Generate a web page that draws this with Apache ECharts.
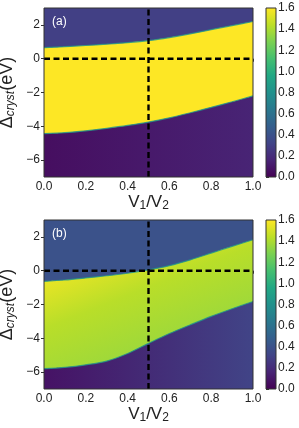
<!DOCTYPE html>
<html>
<head>
<meta charset="utf-8">
<script src="https://cdn.jsdelivr.net/npm/echarts@6/dist/echarts.min.js"></script>
<style>
html,body{margin:0;padding:0;background:#fff;}
#chart{width:299px;height:428px;}
</style>
</head>
<body>
<div id="chart"></div>
<script>
// ---- data ----
const V_RATIO = [0.0, 0.1, 0.2, 0.3, 0.4, 0.5, 0.6, 0.7, 0.8, 0.9, 1.0];
// panel (a): band of high value (upper / lower edge, eV)
const A_UPPER = [0.65, 0.71, 0.78, 0.86, 0.95, 1.07, 1.25, 1.47, 1.72, 1.96, 2.20];
const A_LOWER = [-4.43, -4.38, -4.27, -4.12, -3.95, -3.75, -3.50, -3.20, -2.88, -2.55, -2.20];
// panel (b)
const B_UPPER = [-0.63, -0.55, -0.43, -0.30, -0.15, 0.05, 0.30, 0.64, 1.04, 1.44, 1.83];
const B_LOWER = [-5.80, -5.72, -5.57, -5.35, -4.90, -4.30, -3.72, -3.20, -2.70, -2.25, -1.82];
// region levels (colour scale 0..1.6)
const A_TOP_LEVEL = [0.30, 0.30];            // left, right
const A_BOTTOM_LEVEL = [0.06, 0.16];         // left, right
const A_BAND_LEVEL = [1.6, 1.6, 1.6, 1.6, 1.6, 1.6];
const B_TOP_LEVEL = [0.40, 0.40];
const B_BOTTOM_LEVEL = [0.08, 0.32];
const B_BAND_LEVEL = [1.60, 1.55, 1.43, 1.37, 1.34, 1.32]; // from upper-left toward lower-right
const GUIDE_X = 0.5;
const GUIDE_Y = 0;
const X_TICKS = [0.0, 0.2, 0.4, 0.6, 0.8, 1.0];
const Y_TICKS = [-6, -4, -2, 0, 2];
const CBAR_TICKS = [0.0, 0.2, 0.4, 0.6, 0.8, 1.0, 1.2, 1.4, 1.6];
const PANEL_LABELS = ['(a)', '(b)'];

// ---- scale ----
const XMIN = 0, XMAX = 1, YMIN = -7, YMAX = 3, CMIN = 0, CMAX = 1.6;
const FONT = '"Liberation Sans", Arial, sans-serif';
const VIRIDIS = ['#440154','#482475','#414487','#355f8d','#2a788e','#21918c','#22a884','#44bf70','#7ad151','#bddf26','#fde725'];
const BAND_STOPS = [0, 0.16, 0.35, 0.57, 0.67, 1];

function hexToRgb(h){return [parseInt(h.slice(1,3),16),parseInt(h.slice(3,5),16),parseInt(h.slice(5,7),16)];}
function viridis(v){
  let t = (v - CMIN) / (CMAX - CMIN);
  t = Math.max(0, Math.min(1, t));
  const p = t * (VIRIDIS.length - 1);
  const i = Math.min(VIRIDIS.length - 2, Math.floor(p));
  const f = p - i;
  const a = hexToRgb(VIRIDIS[i]), b = hexToRgb(VIRIDIS[i+1]);
  return 'rgb(' + a.map((c,k)=>Math.round(c + (b[k]-c)*f)).join(',') + ')';
}
function lg(x0,y0,x1,y1,stops){
  return new echarts.graphic.LinearGradient(x0,y0,x1,y1,stops.map(s=>({offset:s[0], color:s[1]})));
}

const chart = echarts.init(document.getElementById('chart'), null, {renderer:'canvas'});

const PLOT_TOPS = [8, 220];
const grid = [], xAxis = [], yAxis = [], series = [], title = [];
const EDGE = {color:viridis(0.85), width:1.2, opacity:0.8};
const DASH = {color:'#000', width:2.4, type:[6,3.5]};
const SMOOTH = 0.3;

const panels = [
  {upper:A_UPPER, lower:A_LOWER, top:A_TOP_LEVEL, bottom:A_BOTTOM_LEVEL, band:A_BAND_LEVEL},
  {upper:B_UPPER, lower:B_LOWER, top:B_TOP_LEVEL, bottom:B_BOTTOM_LEVEL, band:B_BAND_LEVEL}
];

panels.forEach((P, pi)=>{
  const top = PLOT_TOPS[pi];
  grid.push({left:44, top:top, width:209, height:169, show:true, z:10, containLabel:false,
    outerBoundsMode:'none',
    backgroundColor:'transparent', borderColor:'#333', borderWidth:1});
  xAxis.push({
    type:'value', gridIndex:pi, min:XMIN, max:XMAX, interval:0.2,
    axisLine:{show:false},
    axisTick:{show:true, length:3, lineStyle:{color:'#333', width:1}, customValues:X_TICKS},
    axisLabel:{fontSize:12, color:'#222', fontFamily:FONT, margin:4, customValues:X_TICKS,
      formatter:v=>v.toFixed(1)},
    splitLine:{show:false},
    name:'V{s|1}/V{s|2}', nameLocation:'middle', nameGap:15, nameMoveOverlap:false,
    nameTextStyle:{fontSize:17, color:'#222', fontFamily:FONT,
      rich:{s:{fontSize:12, color:'#222', fontFamily:FONT, padding:[8,0,0,0]}}}
  });
  yAxis.push({
    type:'value', gridIndex:pi, min:YMIN, max:YMAX,
    axisLine:{show:false},
    axisTick:{show:true, length:3, lineStyle:{color:'#333', width:1}, customValues:Y_TICKS},
    axisLabel:{fontSize:12, color:'#222', fontFamily:FONT, margin:4, customValues:Y_TICKS,
      formatter:v=>String(v).replace('-', '\u2212')},
    splitLine:{show:false},
    name:'{m|\u0394}{s|cryst}{m|(eV)}', nameLocation:'middle', nameRotate:90, nameGap:27,
    nameMoveOverlap:false,
    nameTextStyle:{color:'#222', fontFamily:FONT,
      rich:{m:{fontSize:18, color:'#222', fontFamily:FONT},
            s:{fontSize:12, color:'#222', fontFamily:FONT, fontStyle:'italic', padding:[8,0,0,0]}}}
  });
  title.push({text:PANEL_LABELS[pi], left:52, top:top+8, padding:0, z:20,
    textStyle:{color:'#fff', fontSize:12, fontWeight:'normal', fontFamily:FONT}});

  // top region (background of the plot)
  series.push({
    type:'custom', xAxisIndex:pi, yAxisIndex:pi, z:1, silent:true, data:[[XMIN, YMAX]],
    renderItem:function(params, api){
      const p0 = api.coord([XMIN, YMAX]);
      const p1 = api.coord([XMAX, YMIN]);
      return {type:'rect', shape:{x:p0[0], y:p0[1], width:p1[0]-p0[0], height:p1[1]-p0[1]},
        style:{fill:lg(0,0,1,0,[[0,viridis(P.top[0])],[1,viridis(P.top[1])]])}};
    }
  });
  // band : area under upper edge
  series.push({type:'line', xAxisIndex:pi, yAxisIndex:pi, z:2, silent:true, symbol:'none',
    smooth:SMOOTH,
    data:V_RATIO.map((x,i)=>[x, P.upper[i]]),
    lineStyle:EDGE,
    areaStyle:{origin:'start', opacity:1,
      color:lg(0,0,0.42,1.47, BAND_STOPS.map((o,i)=>[o, viridis(P.band[i])]))}
  });
  // bottom region : area under lower edge
  series.push({type:'line', xAxisIndex:pi, yAxisIndex:pi, z:3, silent:true, symbol:'none',
    smooth:SMOOTH,
    data:V_RATIO.map((x,i)=>[x, P.lower[i]]),
    lineStyle:EDGE,
    areaStyle:{origin:'start', opacity:1,
      color:lg(0,0,1,0,[[0,viridis(P.bottom[0])],[1,viridis(P.bottom[1])]])}
  });
  // guide lines
  series.push({type:'line', xAxisIndex:pi, yAxisIndex:pi, z:5, silent:true, symbol:'none',
    data:[[XMIN, GUIDE_Y],[XMAX, GUIDE_Y]], lineStyle:DASH});
  series.push({type:'line', xAxisIndex:pi, yAxisIndex:pi, z:5, silent:true, symbol:'none',
    data:[[GUIDE_X, YMIN],[GUIDE_X, YMAX]], lineStyle:DASH});
});

// colour bars
PLOT_TOPS.forEach((top, k)=>{
  const gi = 2 + k;
  grid.push({left:266, top:top, width:10, height:169, show:true, z:10, containLabel:false,
    outerBoundsMode:'none',
    backgroundColor:'transparent', borderColor:'#333', borderWidth:1});
  xAxis.push({type:'value', gridIndex:gi, min:0, max:1, show:false});
  yAxis.push({type:'value', gridIndex:gi, min:CMIN, max:CMAX, position:'right',
    axisLine:{show:false},
    axisTick:{show:true, length:3, lineStyle:{color:'#333'}, customValues:CBAR_TICKS},
    axisLabel:{fontSize:12, color:'#222', fontFamily:FONT, margin:2, customValues:CBAR_TICKS,
      formatter:v=>v.toFixed(1)},
    splitLine:{show:false}});
  series.push({type:'custom', xAxisIndex:gi, yAxisIndex:gi, silent:true, data:[[0, CMIN]],
    renderItem:function(params, api){
      const p0 = api.coord([0, CMAX]);
      const p1 = api.coord([1, CMIN]);
      return {type:'rect', shape:{x:p0[0], y:p0[1], width:p1[0]-p0[0], height:p1[1]-p0[1]},
        style:{fill:lg(0,1,0,0, VIRIDIS.map((c,i)=>[i/(VIRIDIS.length-1), c]))}};
    }});
});

chart.setOption({animation:false, title, grid, xAxis, yAxis, series});
</script>
</body>
</html>
